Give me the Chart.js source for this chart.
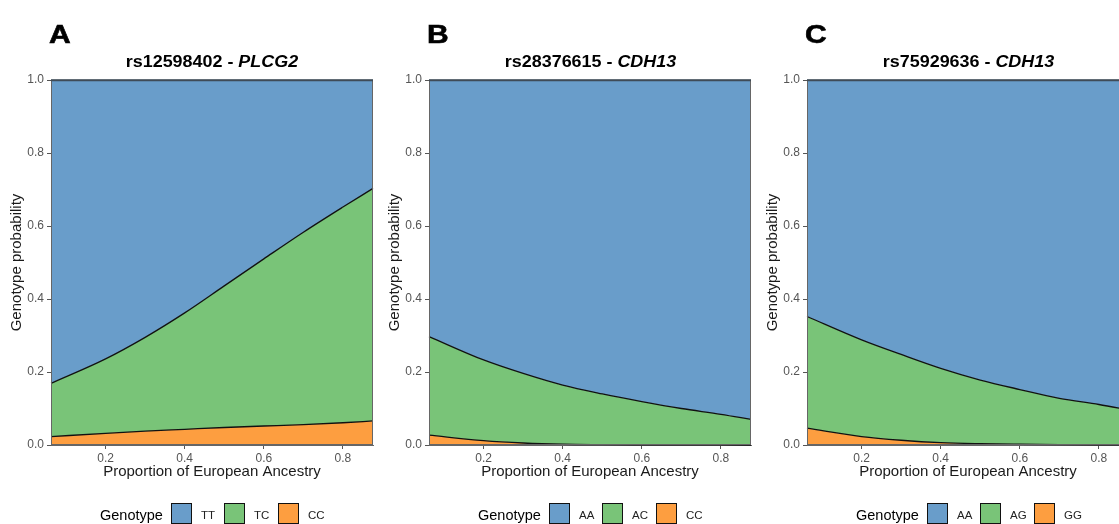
<!DOCTYPE html>
<html>
<head>
<meta charset="utf-8">
<script src="https://cdn.jsdelivr.net/npm/chart.js@4"></script>
<style>
  html, body { margin:0; padding:0; background:#fff; overflow:hidden; }
  #wrap { position:relative; width:1119px; height:524px; overflow:hidden; font-family:"Liberation Sans", Arial, sans-serif; }
  .panel { position:absolute; top:0; width:378px; height:524px; }
  .panel canvas { position:absolute; left:0; top:0; }
  .letter { position:absolute; left:49px; top:22px; font-size:25px; line-height:25px; font-weight:bold; color:#000; transform:scaleX(1.2); transform-origin:left center; -webkit-text-stroke:0.6px #000; }
  .title { position:absolute; left:51px; width:322px; top:53px; text-align:center; font-size:16px; line-height:18px; font-weight:bold; color:#000; white-space:nowrap; }
  .title span { display:inline-block; transform:scaleX(1.12); }
  .legend { position:absolute; top:503px; left:0; width:378px; height:30px; }
  .legend .lt { position:absolute; left:100px; top:4px; font-size:14.5px; color:#000; }
  .legend .box { position:absolute; top:0; width:19px; height:19px; border:1.5px solid #111; }
  .legend .lab { position:absolute; top:6px; font-size:11.5px; color:#222; }
</style>
</head>
<body>
<div id="wrap"></div>
<script>
// shared x positions (proportion of European ancestry)
const xValues = [0.062, 0.2, 0.3, 0.4, 0.5, 0.6, 0.7, 0.8, 0.876];
const xTicks = [0.2, 0.4, 0.6, 0.8];
const yTicks = [0, 0.2, 0.4, 0.6, 0.8, 1.0];

// Panel A: rs12598402 - PLCG2
const snpA = "rs12598402";
const geneA = "PLCG2";
const genotypesA = ["TT", "TC", "CC"];
const probA_TT = [0.831, 0.764, 0.705, 0.638, 0.564, 0.490, 0.417, 0.348, 0.297];
const probA_TC = [0.146, 0.204, 0.257, 0.319, 0.388, 0.458, 0.527, 0.591, 0.637];
const probA_CC = [0.023, 0.032, 0.038, 0.043, 0.048, 0.052, 0.056, 0.061, 0.066];

// Panel B: rs28376615 - CDH13
const snpB = "rs28376615";
const geneB = "CDH13";
const genotypesB = ["AA", "AC", "CC"];
const probB_AA = [0.703, 0.767, 0.804, 0.836, 0.860, 0.881, 0.900, 0.916, 0.930];
const probB_AC = [0.270, 0.221, 0.1905, 0.162, 0.139, 0.1185, 0.0998, 0.0839, 0.070];
const probB_CC = [0.027, 0.012, 0.0055, 0.002, 0.001, 0.0005, 0.0002, 0.0001, 0.0];

// Panel C: rs75929636 - CDH13
const snpC = "rs75929636";
const geneC = "CDH13";
const genotypesC = ["AA", "AG", "GG"];
const probC_AA = [0.648, 0.712, 0.752, 0.790, 0.822, 0.848, 0.872, 0.889, 0.904];
const probC_AG = [0.306, 0.265, 0.235, 0.2036, 0.1745, 0.150, 0.127, 0.1105, 0.0957];
const probC_GG = [0.046, 0.023, 0.013, 0.0064, 0.0035, 0.002, 0.001, 0.0005, 0.0003];

const COLORS = ["#699DCA", "#79C478", "#FD9E40"]; // top, middle, bottom genotype

const borderPlugin = {
  id: 'panelBorder',
  afterDatasetsDraw(chart) {
    const a = chart.chartArea, ctx = chart.ctx;
    ctx.save();
    ctx.strokeStyle = '#666';
    ctx.lineWidth = 1;
    ctx.strokeRect(a.left + 0.5, a.top + 0.5, a.right - a.left - 1, a.bottom - a.top - 1);
    ctx.beginPath();
    ctx.strokeStyle = '#3f4b57';
    ctx.lineWidth = 1.6;
    ctx.moveTo(a.left, a.top + 0.5);
    ctx.lineTo(a.right, a.top + 0.5);
    ctx.stroke();
    ctx.restore();
  }
};

function pts(arr) { return xValues.map((x, i) => ({x: x, y: arr[i]})); }

function makePanel(idx, letter, snp, gene, genotypes, top, mid, bot) {
  const wrap = document.getElementById('wrap');
  const p = document.createElement('div');
  p.className = 'panel';
  p.style.left = (idx * 378) + 'px';
  p.innerHTML = '<canvas width="378" height="524"></canvas>' +
    '<div class="letter">' + letter + '</div>' +
    '<div class="title"><span>' + snp + ' - <i>' + gene + '</i></span></div>' +
    '<div class="legend"><span class="lt">Genotype</span>' +
    '<div class="box" style="left:171px;background:' + COLORS[0] + '"></div><span class="lab" style="left:201px">' + genotypes[0] + '</span>' +
    '<div class="box" style="left:224px;background:' + COLORS[1] + '"></div><span class="lab" style="left:254px">' + genotypes[1] + '</span>' +
    '<div class="box" style="left:278px;background:' + COLORS[2] + '"></div><span class="lab" style="left:308px">' + genotypes[2] + '</span>' +
    '</div>';
  wrap.appendChild(p);
  const canvas = p.querySelector('canvas');
  const common = { pointRadius: 0, cubicInterpolationMode: 'monotone', borderColor: '#111', borderWidth: 1.3, clip: 4 };
  new Chart(canvas.getContext('2d'), {
    type: 'line',
    data: {
      datasets: [
        Object.assign({ label: genotypes[2], data: pts(bot), backgroundColor: COLORS[2], fill: 'origin' }, common),
        Object.assign({ label: genotypes[1], data: pts(mid), backgroundColor: COLORS[1], fill: '-1' }, common),
        Object.assign({ label: genotypes[0], data: pts(top), backgroundColor: COLORS[0], fill: '-1' }, common, {borderColor: '#3f4b57'})
      ]
    },
    options: {
      responsive: false,
      animation: false,
      layout: { padding: { left: 0, right: 5, top: 80, bottom: 39 } },
      plugins: { legend: { display: false }, tooltip: { enabled: false } },
      scales: {
        x: {
          type: 'linear', min: xValues[0], max: xValues[xValues.length - 1],
          afterBuildTicks: (s) => { s.ticks = xTicks.map(v => ({ value: v })); },
          afterFit: (s) => { s.height = 40; },
          ticks: { callback: (v) => v.toFixed(1), color: '#555', font: { family: 'Liberation Sans', size: 12 }, padding: 2, maxRotation: 0 },
          grid: { drawOnChartArea: false, tickLength: 4, color: '#555' },
          border: { display: true, color: '#666' },
          title: { display: true, text: 'Proportion of European Ancestry', color: '#1a1a1a', font: { family: 'Liberation Sans', size: 15 }, padding: { top: 2, bottom: 4 } }
        },
        y: {
          stacked: true, min: 0, max: 1,
          afterBuildTicks: (s) => { s.ticks = yTicks.map(v => ({ value: v })); },
          afterFit: (s) => { s.width = 51; },
          ticks: { callback: (v) => v.toFixed(1), color: '#555', font: { family: 'Liberation Sans', size: 12 }, padding: 3 },
          grid: { drawOnChartArea: false, tickLength: 4, color: '#555' },
          border: { display: true, color: '#666' },
          title: { display: true, text: 'Genotype probability', color: '#1a1a1a', font: { family: 'Liberation Sans', size: 15 }, padding: { top: 8, bottom: 0 } }
        }
      }
    },
    plugins: [borderPlugin]
  });
}

makePanel(0, 'A', snpA, geneA, genotypesA, probA_TT, probA_TC, probA_CC);
makePanel(1, 'B', snpB, geneB, genotypesB, probB_AA, probB_AC, probB_CC);
makePanel(2, 'C', snpC, geneC, genotypesC, probC_AA, probC_AG, probC_GG);
</script>
</body>
</html>
